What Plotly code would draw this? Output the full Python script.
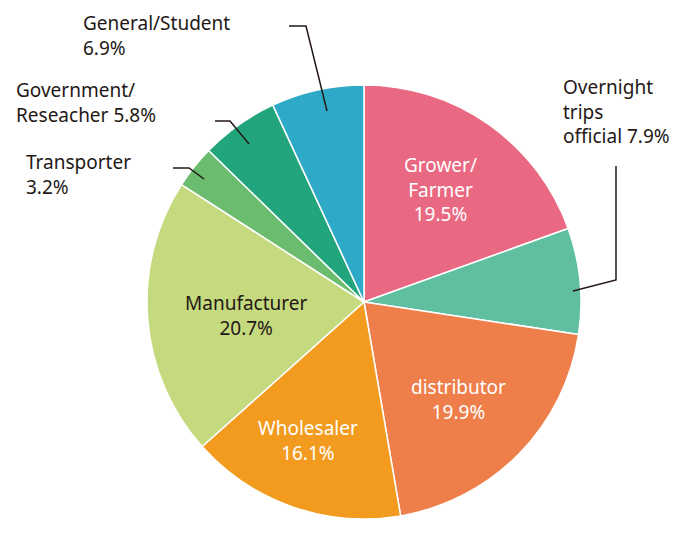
import plotly.graph_objects as go

W, H = 700, 551

labels = ["Grower/Farmer", "Overnight trips official", "distributor", "Wholesaler",
          "Manufacturer", "Transporter", "Government/Reseacher", "General/Student"]
values = [19.5, 7.9, 19.9, 16.1, 20.7, 3.2, 5.8, 6.9]
colors = ["#E96882", "#5FBFA0", "#EE7E4A", "#F29B1F",
          "#C5D97E", "#6BBC6E", "#22A57D", "#2EAAC8"]

# label text, pixel position, anchor, colour
label_text = [
    ("Grower/<br>Farmer<br>19.5%", 432, 181, "center", "white"),
    ("Overnight<br>trips<br>official 7.9%", 553, 104, "left", "#231815"),
    ("distributor<br>19.9%", 450, 391, "center", "white"),
    ("Wholesaler<br>16.1%", 300, 432, "center", "white"),
    ("Manufacturer<br>20.7%", 238, 307, "center", "#231815"),
    ("Transporter<br>3.2%", 16, 166, "left", "#231815"),
    ("Government/<br>Reseacher 5.8%", 6, 94, "left", "#231815"),
    ("General/Student<br>6.9%", 73, 27, "left", "#231815"),
]

leaders = [
    [(281, 18), (298, 18), (319, 103)],
    [(207, 113), (222, 113), (241, 136)],
    [(165, 160), (181, 160), (196, 171)],
    [(565, 283), (608, 272), (608, 158)],
]


def px(x, y):
    return x / W, 1 - y / H


fig = go.Figure(go.Pie(
    labels=labels, values=values, sort=False, direction="clockwise", rotation=0,
    marker=dict(colors=colors, line=dict(color="white", width=1.5)),
    textinfo="none", hoverinfo="label+percent", showlegend=False,
    domain=dict(x=[139 / W, 573 / W], y=[1 - 511 / H, 1 - 77 / H]),
))

for txt, x, y, anchor, col in label_text:
    ax, ay = px(x, y)
    fig.add_annotation(text=txt, x=ax, y=ay, xref="paper", yref="paper",
                       xanchor=anchor, yanchor="middle", align=anchor, showarrow=False,
                       font=dict(size=19, color=col))

for pts in leaders:
    path = "M " + " L ".join("%f,%f" % px(x, y) for x, y in pts)
    fig.add_shape(type="path", path=path, xref="paper", yref="paper",
                  line=dict(color="#231815", width=1.5))

fig.update_layout(width=W, height=H, margin=dict(l=0, r=0, t=0, b=0),
                  paper_bgcolor="white", font=dict(family="Noto Sans, sans-serif"))
fig.write_html("out.html")
